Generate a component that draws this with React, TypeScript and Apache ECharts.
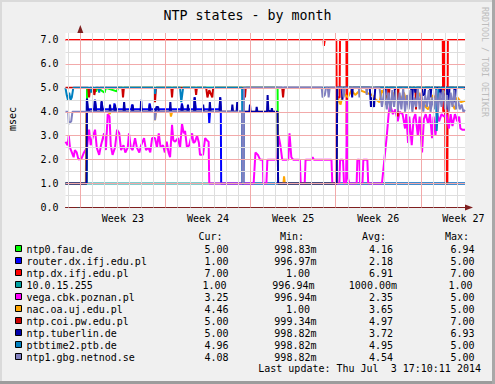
import React, { useEffect, useRef } from "react";
import * as echarts from "echarts";

const FONT = "'DejaVu Sans Mono', monospace";

const chartTitle = "NTP states - by month";
const yUnit = "msec";
const watermark = "RRDTOOL / TOBI OETIKER";
const lastUpdate = "Last update: Thu Jul  3 17:10:11 2014";

// x in days since start of Week 23
const xMin = -1.22;
const xMax = 31.63;
const yMax = 7.29;
const yTicks = [0, 1, 2, 3, 4, 5, 6, 7];
const weekLabels = ["Week 23", "Week 24", "Week 25", "Week 26", "Week 27"];
const weekLabelAt = [3.5, 10.5, 17.5, 24.5, 31.5];
const weekLines = [0, 7, 14, 21, 28];
const dayLines = [-1, 1, 2, 3, 4, 5, 6, 8, 9, 10, 11, 12, 13, 15, 16, 17, 18, 19, 20, 22, 23, 24, 25, 26, 27, 29, 30, 31];
const halfLines = [0.5, 1.5, 2.5, 3.5, 4.5, 5.5, 6.5];
const unitLines = [1, 2, 3, 4, 5, 6, 7];

const seriesNames = [
  "ntp0.fau.de",
  "router.dx.ifj.edu.pl",
  "ntp.dx.ifj.edu.pl",
  "10.0.15.255",
  "vega.cbk.poznan.pl",
  "nac.oa.uj.edu.pl",
  "ntp.coi.pw.edu.pl",
  "ntp.tuberlin.de",
  "ptbtime2.ptb.de",
  "ntp1.gbg.netnod.se",
];
const seriesColors = ["#00FF00", "#0000FF", "#FF0000", "#00A0A0", "#FF00FF", "#FFA500", "#CC0000", "#0000AA", "#0080C0", "#8080C0"];

const curValues = ["5.00", "1.00", "7.00", "1.00", "3.25", "4.46", "5.00", "5.00", "4.96", "4.08"];
const minValues = ["998.83m", "996.97m", "1.00", "996.94m", "996.94m", "1.00", "999.34m", "998.82m", "998.82m", "998.82m"];
const avgValues = ["4.16", "2.18", "6.91", "1000.00m", "2.35", "3.65", "4.97", "3.72", "4.95", "4.54"];
const maxValues = ["6.94", "5.00", "7.00", "1.00", "5.00", "5.00", "7.00", "6.93", "5.00", "5.00"];

const ntp0FauDe = [[-1.22, 1], [0.52, 1], [0.55, 5], [0.75, 4.8], [0.85, 5], [1.3, 4.85], [1.4, 5], [2.0, 4.8], [2.1, 5], [3.0, 4.85], [3.1, 5], [16.22, 5], [16.26, 1], [21.08, 1], [21.12, 5], [31.63, 5]];

const routerDxIfj = [[-1.22, 1], [0.5, 1], [0.53, 4.5], [0.6, 4.1], [1.15, 4.1], [1.2, 4.5], [1.3, 4.1], [1.7, 4.1], [1.75, 4.4], [1.85, 4.1], [2.75, 4.1], [2.8, 4.35], [2.9, 4.1], [4.2, 4.1], [4.25, 4.3], [4.35, 4.1], [5.65, 4.1], [5.7, 4.35], [5.8, 4.1], [8.3, 4.1], [8.35, 4.35], [8.45, 4.1], [9.35, 4.1], [9.4, 4.6], [9.5, 4.1], [10.55, 4.1], [10.6, 3.5], [10.68, 4.1], [11.45, 4.1], [11.5, 4.6], [11.55, 4.2], [11.58, 1], [31.63, 1]];

const ntpDxIfj = [[-1.22, 7], [20.0, 7], [20.03, 6.75], [20.08, 6.75], [20.1, 7], [21.05, 7], [21.08, 4.6], [21.32, 4.6], [21.35, 7], [21.88, 7], [21.9, 3.0], [21.96, 3.0], [21.98, 7], [29.8, 7], [29.84, 4.0], [29.9, 4.2], [29.96, 7], [30.0, 7], [30.04, 1.0], [30.18, 1.0], [30.22, 7], [31.63, 7]];

const host10015255 = [[-1.22, 1], [31.63, 1]];

const vegaCbk = [[-1.22, 2.75], [-1.05, 2.6], [-0.95, 3.0], [-0.85, 2.5], [-0.7, 2.3], [-0.55, 2.1], [-0.45, 2.4], [-0.3, 2.3], [-0.15, 2.0], [0.1, 2.05], [0.3, 2.3], [0.55, 2.5], [0.72, 3.25], [0.85, 2.6], [1.0, 2.9], [1.21, 3.25], [1.35, 2.5], [1.55, 2.2], [1.7, 2.6], [1.95, 3.1], [2.1, 2.4], [2.25, 3.9], [2.4, 3.8], [2.5, 2.6], [2.65, 2.2], [2.85, 2.5], [3.02, 3.25], [3.2, 3.1], [3.35, 2.4], [3.55, 2.6], [3.7, 2.3], [3.9, 2.5], [4.0, 3.1], [4.15, 2.5], [4.3, 2.4], [4.5, 2.9], [4.65, 2.5], [4.85, 2.3], [5.0, 2.6], [5.24, 2.9], [5.4, 2.4], [5.6, 2.5], [5.75, 2.3], [5.9, 2.9], [6.14, 2.9], [6.3, 2.5], [6.45, 3.1], [6.6, 2.5], [6.8, 2.6], [6.95, 2.3], [7.1, 2.75], [7.25, 2.3], [7.38, 2.1], [7.54, 3.45], [7.65, 2.8], [7.8, 2.75], [8.03, 2.9], [8.2, 2.5], [8.36, 3.5], [8.5, 3.1], [8.61, 3.2], [8.77, 2.5], [8.95, 2.6], [9.19, 3.1], [9.3, 2.7], [9.43, 2.75], [9.6, 3.0], [9.75, 2.7], [9.84, 2.2], [10.09, 2.2], [10.26, 2.9], [10.42, 2.8], [10.55, 2.75], [10.6, 1.0], [14.25, 1.0], [14.4, 2.3], [14.6, 2.2], [14.78, 2.0], [15.0, 2.0], [15.05, 1.0], [15.3, 1.0], [15.38, 2.0], [16.2, 2.0], [16.3, 3.0], [16.45, 2.6], [16.6, 2.0], [17.1, 2.0], [17.2, 3.1], [17.35, 2.1], [17.5, 2.0], [18.05, 2.0], [18.12, 1.0], [18.45, 1.0], [18.52, 2.0], [19.0, 2.0], [19.1, 2.1], [19.2, 2.0], [20.65, 2.0], [20.72, 1.0], [21.3, 1.0], [21.36, 2.0], [21.6, 2.0], [21.68, 1.0], [21.85, 1.0], [21.93, 4.5], [22.02, 1.2], [22.12, 1.0], [22.72, 1.0], [22.78, 2.0], [22.95, 2.0], [23.0, 1.0], [23.2, 1.0], [23.27, 2.0], [23.6, 2.0], [23.67, 1.0], [24.8, 1.0], [25.0, 2.0], [25.2, 3.0], [25.35, 3.9], [25.47, 4.3], [25.7, 3.9], [25.9, 4.1], [26.1, 3.6], [26.25, 4.0], [26.5, 3.9], [26.7, 3.3], [26.8, 3.9], [26.95, 2.7], [27.05, 3.8], [27.25, 2.6], [27.4, 3.7], [27.55, 3.9], [27.75, 3.0], [27.9, 3.8], [28.1, 2.3], [28.25, 3.7], [28.4, 3.9], [28.6, 3.5], [28.75, 3.9], [28.92, 2.9], [29.05, 3.8], [29.2, 3.0], [29.35, 3.9], [29.5, 3.6], [29.7, 3.9], [29.9, 3.8], [30.1, 3.9], [30.3, 3.3], [30.45, 3.9], [30.6, 3.4], [30.8, 3.9], [31.0, 3.6], [31.15, 3.8], [31.25, 3.3], [31.4, 3.25], [31.63, 3.25]];

const nacOaUj = [[-1.22, 1], [0.45, 1], [0.5, 4.0], [2.35, 4.0], [2.4, 3.9], [2.5, 4.0], [6.08, 4.0], [6.14, 3.65], [6.22, 4.0], [7.4, 4.0], [7.45, 3.8], [7.55, 4.0], [16.22, 4.0], [16.26, 1.0], [16.7, 1.0], [16.75, 1.3], [16.82, 1.0], [21.08, 1.0], [21.12, 4.6], [21.4, 4.3], [21.6, 4.8], [22.0, 4.6], [22.3, 4.9], [22.6, 4.7], [23.0, 4.9], [23.5, 4.8], [24.0, 4.7], [24.3, 4.5], [24.6, 4.4], [24.8, 4.9], [25.2, 4.6], [25.5, 4.3], [25.8, 4.8], [26.0, 4.5], [26.3, 4.4], [26.6, 4.8], [26.9, 4.3], [27.2, 4.6], [27.5, 4.4], [27.8, 4.8], [28.1, 4.5], [28.4, 4.2], [28.6, 4.1], [28.8, 4.3], [29.0, 4.7], [29.3, 4.5], [29.6, 4.9], [30.0, 4.8], [30.4, 4.6], [30.6, 4.3], [30.8, 4.1], [31.0, 4.6], [31.3, 4.4], [31.63, 4.46]];

const ntpCoiPw = [[-1.22, 5], [0.65, 5], [0.72, 4.6], [0.8, 5], [1.1, 5], [1.15, 4.7], [1.25, 5], [3.45, 5], [3.51, 4.6], [3.58, 5], [6.08, 5], [6.14, 4.4], [6.22, 5], [7.48, 5], [7.54, 4.6], [7.6, 5], [9.46, 5], [9.52, 4.7], [9.58, 5], [10.35, 5], [10.45, 4.6], [10.6, 4.9], [10.85, 4.6], [10.92, 5], [13.48, 5], [13.54, 4.6], [13.6, 5], [16.6, 5], [16.67, 4.6], [16.74, 5], [25.3, 5], [25.35, 4.5], [25.42, 5], [26.05, 5], [26.1, 3.8], [26.16, 5], [27.55, 5], [27.6, 4.1], [27.66, 5], [31.63, 5]];

const ntpTuberlin = [[-1.22, 1], [0.5, 1], [0.55, 4.55], [0.62, 4.1], [0.8, 4.0], [1.15, 4.0], [1.2, 4.5], [1.3, 4.0], [1.7, 4.0], [1.75, 4.45], [1.82, 4.0], [2.4, 4.0], [2.44, 4.3], [2.5, 4.0], [2.8, 4.0], [2.85, 4.3], [2.92, 4.0], [3.55, 4.0], [3.6, 4.4], [3.67, 4.0], [4.25, 4.0], [4.3, 4.3], [4.36, 4.0], [4.95, 4.0], [5.0, 4.5], [5.06, 4.0], [5.65, 4.0], [5.7, 4.3], [5.76, 4.0], [6.2, 4.0], [6.25, 4.2], [6.4, 4.2], [6.45, 4.0], [7.35, 4.0], [7.4, 4.4], [7.46, 4.0], [8.3, 4.0], [8.36, 4.3], [8.42, 4.0], [8.8, 4.0], [8.85, 4.3], [8.9, 4.0], [9.35, 4.0], [9.4, 4.6], [9.46, 4.0], [10.05, 4.0], [10.1, 4.3], [10.16, 4.0], [10.6, 4.0], [10.65, 4.4], [10.71, 4.0], [11.45, 4.0], [11.5, 4.6], [11.56, 4.0], [12.45, 4.0], [12.5, 4.3], [12.56, 4.0], [12.85, 4.0], [12.9, 4.4], [12.96, 4.0], [13.3, 4.0], [13.34, 1.0], [13.4, 1.0], [13.44, 4.0], [13.9, 4.0], [13.95, 4.3], [14.0, 4.0], [14.45, 4.0], [14.5, 4.2], [14.56, 4.0], [15.35, 4.0], [15.4, 4.7], [15.46, 4.05], [15.7, 4.0], [15.75, 4.15], [15.8, 4.0], [16.22, 4.0], [16.26, 1.0], [21.08, 1.0], [21.12, 5.0], [21.5, 5.0], [21.55, 4.5], [21.62, 5.0], [22.3, 5.0], [22.35, 4.6], [22.4, 5.0], [23.8, 5.0], [23.9, 4.2], [24.0, 4.6], [24.15, 4.2], [24.25, 5.0], [25.0, 5.0], [25.06, 4.3], [25.12, 5.0], [25.85, 5.0], [25.9, 4.5], [25.96, 5.0], [27.2, 5.0], [27.28, 4.4], [27.35, 5.0], [27.5, 5.0], [27.55, 4.8], [27.6, 5.0], [28.1, 5.0], [28.15, 4.7], [28.3, 4.7], [28.35, 5.0], [28.75, 5.0], [28.8, 4.6], [28.86, 5.0], [29.55, 5.0], [29.6, 4.6], [29.66, 5.0], [30.15, 5.0], [30.2, 4.1], [30.3, 4.4], [30.35, 5.0], [30.75, 5.0], [30.8, 4.4], [30.86, 5.0], [31.63, 5.0]];

const ptbtime2 = [[-1.22, 5], [-1.12, 4.7], [-1.02, 4.5], [-0.92, 4.8], [-0.8, 4.5], [-0.7, 4.6], [-0.58, 5], [0.85, 5], [0.9, 4.8], [0.95, 5], [1.5, 5], [1.55, 4.8], [1.6, 5], [6.1, 5], [6.15, 4.75], [6.2, 5], [8.2, 5], [8.3, 4.4], [8.45, 5], [13.3, 5], [13.34, 1.0], [13.4, 1.0], [13.44, 5], [29.25, 5], [29.3, 3.2], [29.38, 4.0], [29.45, 5], [31.5, 5], [31.55, 4.96], [31.63, 4.96]];

const ntp1Gbg = [[-1.22, 4], [-1.0, 4], [-0.95, 3.5], [-0.75, 3.6], [-0.65, 4], [6.08, 4], [6.14, 3.65], [6.22, 4], [13.3, 4], [13.34, 1.0], [13.42, 1.0], [13.46, 5], [19.85, 5], [19.92, 4.6], [20.1, 4.7], [20.2, 5], [20.35, 5], [20.42, 4.6], [20.5, 5], [21.55, 5], [21.65, 4.6], [21.75, 5], [22.9, 5], [22.95, 4.6], [23.05, 5], [23.5, 5], [23.55, 4.7], [23.6, 5], [24.6, 5], [24.8, 4.2], [25.0, 4.9], [25.2, 4.1], [25.35, 4.8], [25.5, 4.0], [25.65, 4.9], [25.8, 4.2], [25.95, 4.9], [26.1, 4.0], [26.25, 4.8], [26.4, 4.1], [26.55, 5.0], [26.7, 4.0], [26.85, 4.7], [27.0, 4.1], [27.15, 4.9], [27.3, 4.0], [27.45, 4.6], [27.6, 4.2], [27.75, 5.0], [27.9, 4.1], [28.05, 4.8], [28.2, 4.0], [28.35, 4.7], [28.5, 4.2], [28.65, 4.9], [28.8, 4.0], [28.95, 4.6], [29.1, 4.1], [29.25, 4.9], [29.4, 4.0], [29.55, 4.8], [29.7, 4.2], [29.85, 4.9], [30.0, 4.1], [30.15, 4.7], [30.3, 4.0], [30.45, 4.8], [30.6, 4.2], [30.75, 4.9], [30.9, 4.1], [31.05, 4.5], [31.2, 4.1], [31.35, 4.3], [31.5, 4.0], [31.63, 4.08]];

const seriesData = [ntp0FauDe, routerDxIfj, ntpDxIfj, host10015255, vegaCbk, nacOaUj, ntpCoiPw, ntpTuberlin, ptbtime2, ntp1Gbg];

const AXIS_COLOR = "#7F1F1F";
const MINOR = "#DEDEDE";
const MAJOR = "#F2AAAA";

function buildOption() {
  const gridMarks: any[] = [];
  dayLines.forEach((d) => gridMarks.push({ xAxis: d, lineStyle: { color: MINOR, width: 1, type: "solid" } }));
  halfLines.forEach((v) => gridMarks.push({ yAxis: v, lineStyle: { color: MINOR, width: 1, type: "solid" } }));
  weekLines.forEach((d) => gridMarks.push({ xAxis: d, lineStyle: { color: MAJOR, width: 1, type: "solid" } }));
  unitLines.forEach((v) => gridMarks.push({ yAxis: v, lineStyle: { color: MAJOR, width: 1, type: "solid" } }));

  const txt = (text: string, x: number, y: number, align: string, extra: any = {}) => ({
    type: "text",
    x,
    y,
    silent: true,
    style: { text, fill: "#000", font: `10px ${FONT}`, align, verticalAlign: "middle", ...extra },
  });

  const graphic: any[] = [
    { type: "rect", shape: { x: 0, y: 381, width: 495, height: 3 }, style: { fill: "#9C9C9C" }, silent: true },
    { type: "rect", shape: { x: 492, y: 0, width: 3, height: 384 }, style: { fill: "#A8A8A8" }, silent: true },
    { type: "rect", shape: { x: 0, y: 0, width: 2, height: 381 }, style: { fill: "#DADADA" }, silent: true },
    { type: "rect", shape: { x: 0, y: 0, width: 492, height: 2 }, style: { fill: "#DADADA" }, silent: true },
    { ...txt(yUnit, 12.5, 119, "center"), rotation: Math.PI / 2 },
    {
      type: "text",
      x: 485,
      y: 62,
      rotation: -Math.PI / 2,
      silent: true,
      style: { text: watermark, fill: "#BDBDBD", font: `8.3px ${FONT}`, align: "center", verticalAlign: "middle" },
    },
    txt("Cur:", 198.5, 236, "left"),
    txt("Min:", 280, 236, "left"),
    txt("Avg:", 362, 236, "left"),
    txt("Max:", 445, 236, "left"),
    txt(lastUpdate, 481, 368, "right"),
  ];
  seriesNames.forEach((name, i) => {
    const y = 249 + 12 * i;
    const shift = i === 3 ? -2 : 0;
    graphic.push({
      type: "rect",
      shape: { x: 15.5, y: y - 3.5, width: 6, height: 6 },
      style: { fill: seriesColors[i], stroke: "#000", lineWidth: 1 },
      silent: true,
    });
    graphic.push(txt(name, 26.5, y, "left"));
    graphic.push(txt(curValues[i], 228.5 + shift, y, "right"));
    const minRight = minValues[i].endsWith("m") ? 316.5 : 310;
    graphic.push(txt(minValues[i], minRight + shift, y, "right"));
    const avgRight = avgValues[i].endsWith("m") ? 397 : 393;
    graphic.push(txt(avgValues[i], avgRight, y, "right"));
    graphic.push(txt(maxValues[i], 474.5 + shift, y, "right"));
  });

  const lineSeries = seriesNames.map((name, i) => ({
    type: "line",
    name,
    data: seriesData[i],
    showSymbol: false,
    symbol: "none",
    silent: true,
    z: 3,
    lineStyle: { color: seriesColors[i], width: 2 },
    itemStyle: { color: seriesColors[i] },
  }));

  return {
    animation: false,
    backgroundColor: "#F0F0F0",
    textStyle: { fontFamily: FONT },
    title: {
      text: chartTitle,
      left: "center",
      top: 9,
      padding: 0,
      textStyle: { fontFamily: FONT, fontSize: 13.3, fontWeight: "normal", color: "#000" },
    },
    grid: {
      left: 65.5,
      top: 33,
      width: 399.5,
      height: 174.5,
      show: true,
      backgroundColor: "#FFFFFF",
      borderWidth: 0,
    },
    xAxis: {
      type: "value",
      min: xMin,
      max: xMax,
      axisLine: {
        show: true,
        onZero: false,
        lineStyle: { color: AXIS_COLOR, width: 1 },
        symbol: ["none", "triangle"],
        symbolSize: [6, 8],
        symbolOffset: [0, 4],
      },
      axisTick: { show: false },
      splitLine: { show: false },
      axisLabel: {
        customValues: weekLabelAt,
        margin: 6,
        color: "#000",
        fontFamily: FONT,
        fontSize: 10,
        formatter: (v: number) => {
          const idx = weekLabelAt.findIndex((a) => Math.abs(a - v) < 0.01);
          return idx >= 0 ? weekLabels[idx] : "";
        },
      },
    },
    yAxis: {
      type: "value",
      min: 0,
      max: yMax,
      axisLine: {
        show: true,
        lineStyle: { color: AXIS_COLOR, width: 1 },
        symbol: ["none", "triangle"],
        symbolSize: [6, 8],
        symbolOffset: [0, 4],
      },
      axisTick: { show: true, customValues: yTicks, length: 3, lineStyle: { color: "#404040" } },
      splitLine: { show: false },
      axisLabel: {
        customValues: yTicks,
        margin: 7,
        color: "#000",
        fontFamily: FONT,
        fontSize: 10,
        formatter: (v: number) => v.toFixed(1),
      },
    },
    graphic,
    series: [
      {
        type: "line",
        name: "grid",
        data: [],
        z: 1,
        silent: true,
        markLine: {
          silent: true,
          symbol: ["none", "none"],
          label: { show: false },
          emphasis: { disabled: true },
          animation: false,
          data: gridMarks,
        },
      },
      ...lineSeries,
    ],
  };
}

export default function App() {
  const ref = useRef<HTMLDivElement>(null);
  useEffect(() => {
    if (!ref.current) return;
    const chart = echarts.init(ref.current, null, { renderer: "svg" });
    chart.setOption(buildOption() as any);
    return () => chart.dispose();
  }, []);
  return <div ref={ref} style={{ position: "absolute", left: 0, top: 0, width: 495, height: 384 }} />;
}
